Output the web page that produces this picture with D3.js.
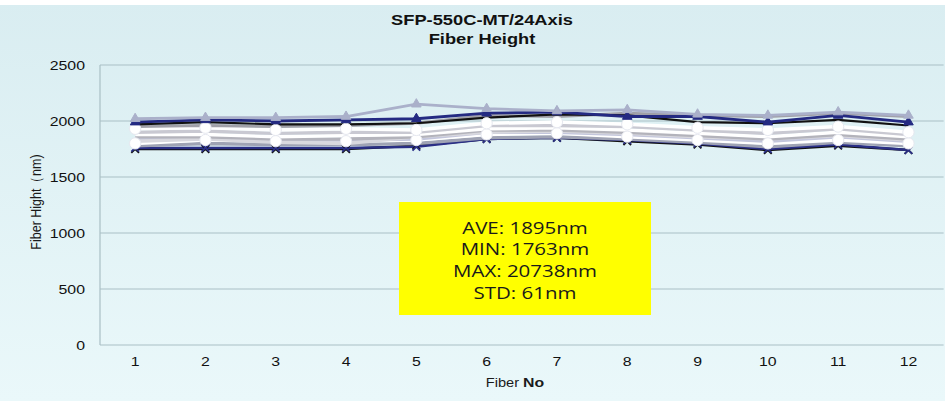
<!DOCTYPE html>
<html><head><meta charset="utf-8">
<script src="https://cdn.jsdelivr.net/npm/d3@7"></script>
<style>body{margin:0;background:#fff}svg{display:block}</style>
</head><body>
<script>
const fibers = ["1","2","3","4","5","6","7","8","9","10","11","12"];
const yTicks = [0,500,1000,1500,2000,2500];
const s1  = [1990,2010,2000,2010,2020,2070,2080,2040,2040,1990,2050,1990];
const s2  = [1970,1990,1970,1970,1980,2030,2060,2050,1990,1980,2010,1960];
const s3  = [2020,2030,2030,2040,2150,2110,2090,2100,2060,2050,2080,2050];
const s4  = [1950,1960,1950,1960,1980,2050,2040,2070,2050,2040,2070,2040];
const s5  = [1930,1940,1920,1930,1920,1980,1990,1970,1940,1920,1950,1900];
const s6  = [1900,1910,1890,1900,1900,1960,1960,1950,1920,1890,1930,1880];
const s7  = [1880,1880,1860,1870,1880,1930,1940,1920,1890,1860,1900,1860];
const s8  = [1860,1860,1840,1840,1860,1920,1920,1900,1870,1840,1880,1840];
const s9  = [1840,1850,1830,1830,1840,1900,1900,1880,1850,1820,1860,1820];
const s10 = [1800,1830,1820,1820,1830,1880,1890,1860,1830,1800,1830,1800];
const s11 = [1780,1800,1790,1790,1800,1850,1860,1840,1810,1770,1810,1780];
const s12 = [1760,1760,1760,1760,1770,1840,1850,1830,1800,1750,1790,1740];
const s13 = [1750,1750,1750,1750,1780,1840,1850,1820,1790,1740,1780,1740];
const s14 = [1820,1840,1810,1800,1860,1900,1910,1890,1860,1840,1870,1830];
const statLines = ["AVE: 1895nm","MIN: 1763nm","MAX: 20738nm","STD: 61nm"];

const series = [
  {v:s13, c:"#111111", m:"cross",    w:2.5},
  {v:s12, c:"#2a2f86", m:"cross",    w:2.5},
  {v:s11, c:"#9fa3b4", m:"none",     w:3.5},
  {v:s10, c:"#ffffff", m:"circle",   w:3.5},
  {v:s9,  c:"#c3c6dc", m:"none",     w:3.5},
  {v:s14, c:"#d8d8de", m:"none",     w:3.5},
  {v:s8,  c:"#b3b3bb", m:"none",     w:3.5},
  {v:s7,  c:"#ffffff", m:"none",     w:3.5},
  {v:s6,  c:"#c9c9d2", m:"none",     w:3.5},
  {v:s5,  c:"#ffffff", m:"circle",   w:3.5},
  {v:s4,  c:"#a0a0a8", m:"none",     w:3},
  {v:s2,  c:"#111111", m:"none",     w:2.2},
  {v:s1,  c:"#242a82", m:"triangle", w:2.8},
  {v:s3,  c:"#aab0ca", m:"triangle", w:2.8}
];

const W = 945, H = 401;
const sx = 1.22;
const svg = d3.select("body").append("svg").attr("width", W).attr("height", H);
const defs = svg.append("defs");
const g = defs.append("linearGradient").attr("id","bg").attr("x1",0).attr("y1",0).attr("x2",0).attr("y2",1);
g.append("stop").attr("offset","0%").attr("stop-color","#d9edf1");
g.append("stop").attr("offset","100%").attr("stop-color","#eaf8fa");
svg.append("rect").attr("width",W).attr("height",H).attr("fill","url(#bg)");
svg.append("rect").attr("width",W).attr("height",5).attr("fill","#ffffff");

const x = d3.scaleBand().domain(fibers).range([100, 943.6]);
const y = d3.scaleLinear().domain([0,2500]).range([345, 65]);

function stext(sel, tx, ty, txt, opts) {
  const t = sel.append("text")
    .attr("transform", `translate(${tx},${ty}) scale(${sx},1)`)
    .attr("text-anchor", opts.anchor || "middle")
    .attr("font-family", opts.family || "'Liberation Sans', Arial, sans-serif")
    .attr("font-size", opts.size || 13)
    .attr("font-weight", opts.weight || "normal")
    .attr("fill", opts.fill || "#1a1a1a");
  if (txt !== null) t.text(txt);
  return t;
}

// gridlines
svg.append("g").selectAll("line").data(yTicks).join("line")
  .attr("x1", 100).attr("x2", 943.6)
  .attr("y1", d => y(d)).attr("y2", d => y(d))
  .attr("stroke", "#a9bfc5").attr("stroke-width", 1.2);
svg.append("line").attr("x1",100).attr("x2",100).attr("y1",y(2500)).attr("y2",y(0))
  .attr("stroke","#a9bfc5").attr("stroke-width",1.2);

// y tick labels
const yl = svg.append("g");
yTicks.forEach(t => stext(yl, 85, y(t)+4.5, String(t), {anchor:"end", size:13, fill:"#111"}));
// x tick labels
const xl = svg.append("g");
fibers.forEach(f => stext(xl, x(f)+x.bandwidth()/2, 366, f, {size:13, fill:"#111"}));

// titles
stext(svg, 482, 25, "SFP-550C-MT/24Axis", {size:15, weight:"bold", fill:"#111"});
stext(svg, 482, 44, "Fiber Height", {size:15, weight:"bold", fill:"#111"});
const xt = stext(svg, 515, 387, null, {size:12});
xt.append("tspan").text("Fiber ");
xt.append("tspan").attr("font-weight","bold").attr("font-size",13).text("No");
svg.append("text")
  .attr("transform","translate(41,202) rotate(-90) scale(1,1.2)")
  .attr("text-anchor","middle")
  .attr("font-family","'Liberation Sans', Arial, sans-serif")
  .attr("font-size",12.5).attr("fill","#1a1a1a")
  .text("Fiber Hight（nm)");

// lines
const line = d3.line().x((d,i) => x(fibers[i]) + x.bandwidth()/2).y(d => y(d));
const lg = svg.append("g");
series.forEach(s => {
  lg.append("path").datum(s.v).attr("d", line)
    .attr("fill","none").attr("stroke", s.c).attr("stroke-width", s.w)
    .attr("stroke-linejoin","round");
});
series.forEach(s => {
  if (s.m === "none") return;
  const sym = s.m === "circle" ? d3.symbolCircle : s.m === "triangle" ? d3.symbolTriangle : d3.symbolX;
  const size = s.m === "circle" ? 100 : 40;
  lg.append("g").selectAll("path").data(s.v).join("path")
    .attr("transform", (d,i) => `translate(${x(fibers[i]) + x.bandwidth()/2},${y(d)})`)
    .attr("d", d3.symbol().type(sym).size(size))
    .attr("fill", s.m === "circle" ? "#ffffff" : s.c)
    .attr("stroke", s.m === "circle" ? "#e6e8f0" : s.c)
    .attr("stroke-width", s.m === "cross" ? 1.8 : 1);
});

// stats box
svg.append("rect").attr("x",399).attr("y",202).attr("width",252).attr("height",113).attr("fill","#ffff00");
const sb = svg.append("g");
statLines.forEach((t,i) => stext(sb, 525, 233.5 + i*21.7, t,
  {size:16.8, family:"'Open Sans', 'Liberation Sans', sans-serif", fill:"#1a1a1a"}));
</script>
</body></html>
